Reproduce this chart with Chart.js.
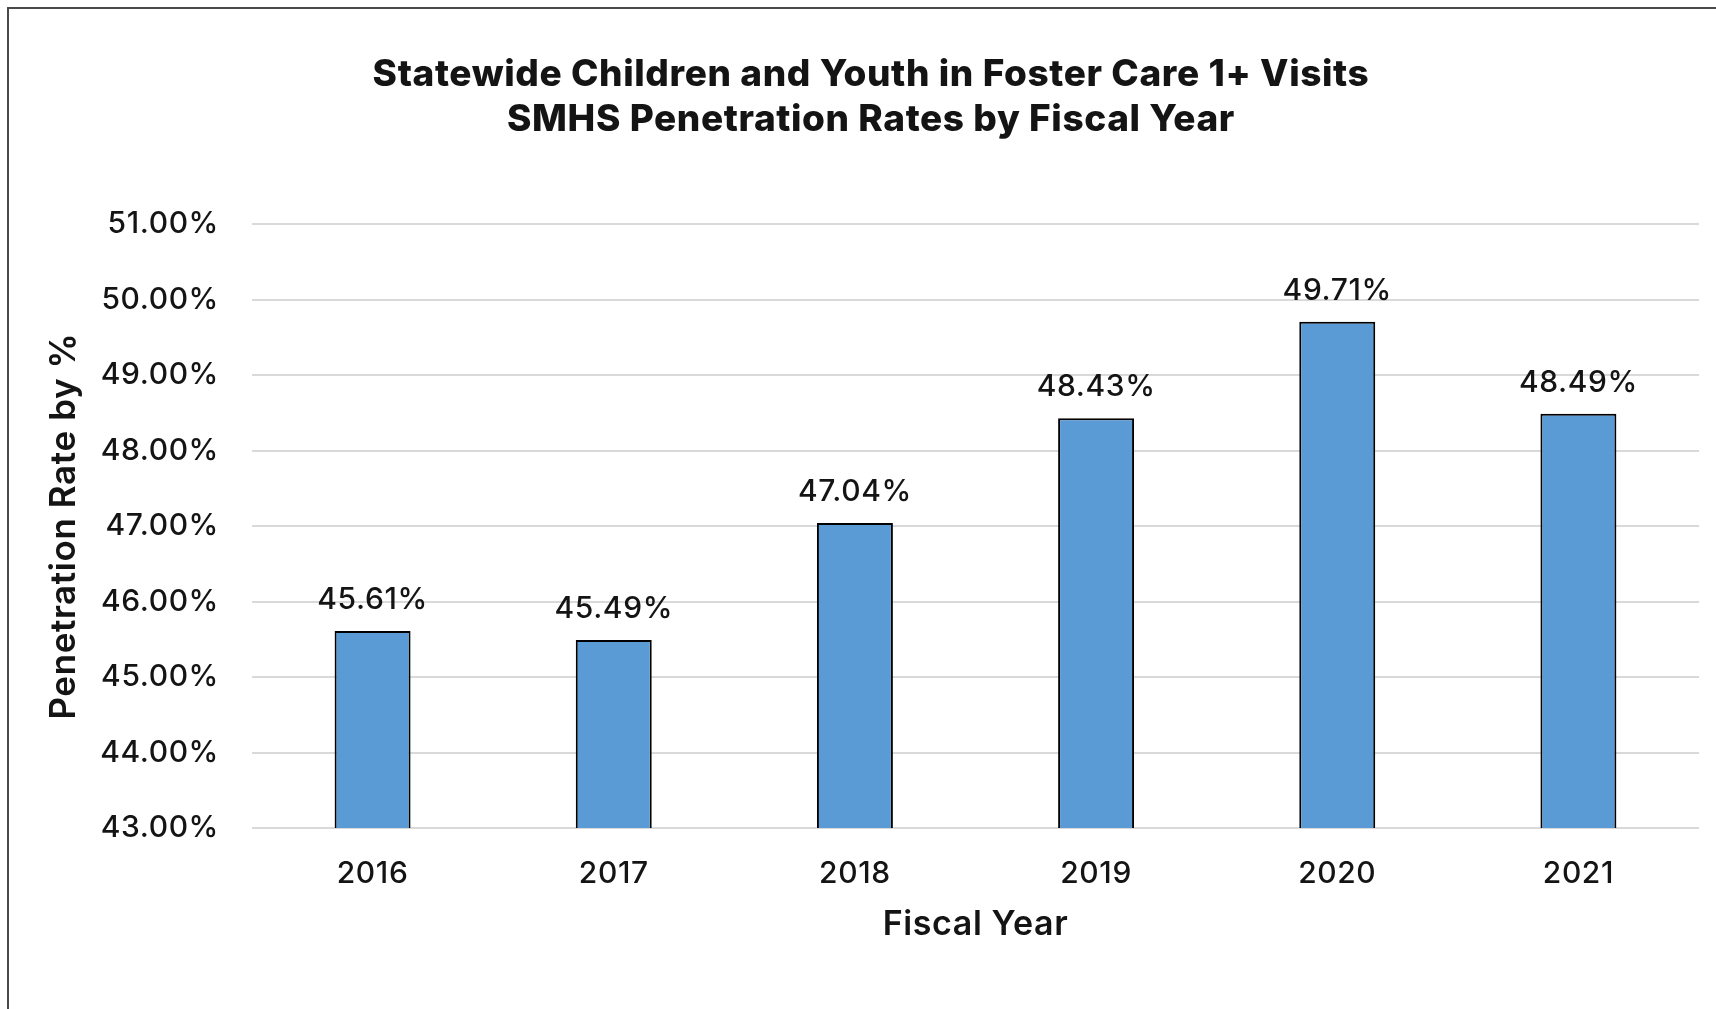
<!DOCTYPE html>
<html>
<head>
<meta charset="utf-8">
<script src="https://cdn.jsdelivr.net/npm/chart.js@4/dist/chart.umd.min.js"></script>
<style>
  html, body { margin: 0; padding: 0; background: #ffffff; width: 1716px; height: 1009px; overflow: hidden; }
  #frame { position: absolute; left: 7px; top: 7px; width: 1800px; height: 1100px; border-left: 2px solid #4a4a4a; border-top: 2px solid #4a4a4a; }
  #wrap { position: absolute; left: 43px; top: 0; width: 1673px; height: 1009px; }
</style>
</head>
<body>
<div id="frame"></div>
<div id="wrap"><canvas id="c"></canvas></div>
<script>
const titleLines = ['Statewide Children and Youth in Foster Care 1+ Visits', 'SMHS Penetration Rates by Fiscal Year'];
const categories = ['2016', '2017', '2018', '2019', '2020', '2021'];
const rates = [45.61, 45.49, 47.04, 48.43, 49.71, 48.49];
const yMin = 43;
const yMax = 51;
const yStep = 1;
const xTitle = 'Fiscal Year';
const yTitle = 'Penetration Rate by %';

const FONT = "Inter, 'Open Sans', sans-serif";
const TEXT = '#141414';

const spacing = {
  id: 'spacing',
  beforeUpdate(chart) { chart.ctx.letterSpacing = '0.6px'; },
  beforeDraw(chart) { chart.ctx.letterSpacing = '0.6px'; }
};

const valueLabels = {
  id: 'valueLabels',
  afterDatasetsDraw(chart) {
    const ctx = chart.ctx;
    const meta = chart.getDatasetMeta(0);
    ctx.save();
    ctx.font = '550 30px ' + FONT;
    ctx.fillStyle = TEXT;
    ctx.textAlign = 'center';
    ctx.textBaseline = 'middle';
    meta.data.forEach((bar, i) => {
      ctx.fillText(rates[i].toFixed(2) + '%', bar.x, bar.y - 31);
    });
    ctx.restore();
  }
};

new Chart(document.getElementById('c'), {
  type: 'bar',
  data: {
    labels: categories,
    datasets: [{
      data: rates,
      backgroundColor: '#5b9bd5',
      borderColor: '#000000',
      borderWidth: 2,
      borderSkipped: 'bottom',
      categoryPercentage: 1,
      barPercentage: 0.315
    }]
  },
  options: {
    responsive: true,
    maintainAspectRatio: false,
    animation: false,
    layout: { padding: { top: 0, right: 17, bottom: 0, left: 0 } },
    plugins: {
      legend: { display: false },
      tooltip: { enabled: false },
      title: {
        display: true,
        text: titleLines,
        color: TEXT,
        font: { family: FONT, size: 37, weight: '800', lineHeight: 1.22 },
        padding: { top: 52, bottom: 82 }
      }
    },
    scales: {
      x: {
        grid: { display: false, drawTicks: false },
        border: { display: false },
        ticks: { color: TEXT, font: { family: FONT, size: 30, weight: '550' }, padding: 28 },
        title: { display: true, text: xTitle, color: TEXT, font: { family: FONT, size: 34, weight: '600' }, padding: { top: 0, bottom: 64 } },
        afterFit(s) { s.height = 181; }
      },
      y: {
        min: yMin,
        max: yMax,
        grid: { color: '#d9d9d9', lineWidth: 2, drawTicks: false },
        border: { display: false },
        ticks: {
          stepSize: yStep,
          color: TEXT,
          font: { family: FONT, size: 30, weight: '550' },
          padding: 33,
          callback: v => Number(v).toFixed(2) + '%'
        },
        title: { display: true, text: yTitle, color: TEXT, font: { family: FONT, size: 35, weight: '600' }, padding: { top: 0, bottom: 0 } },
        afterFit(s) { s.width = 209; }
      }
    }
  },
  plugins: [spacing, valueLabels]
});
</script>
</body>
</html>
